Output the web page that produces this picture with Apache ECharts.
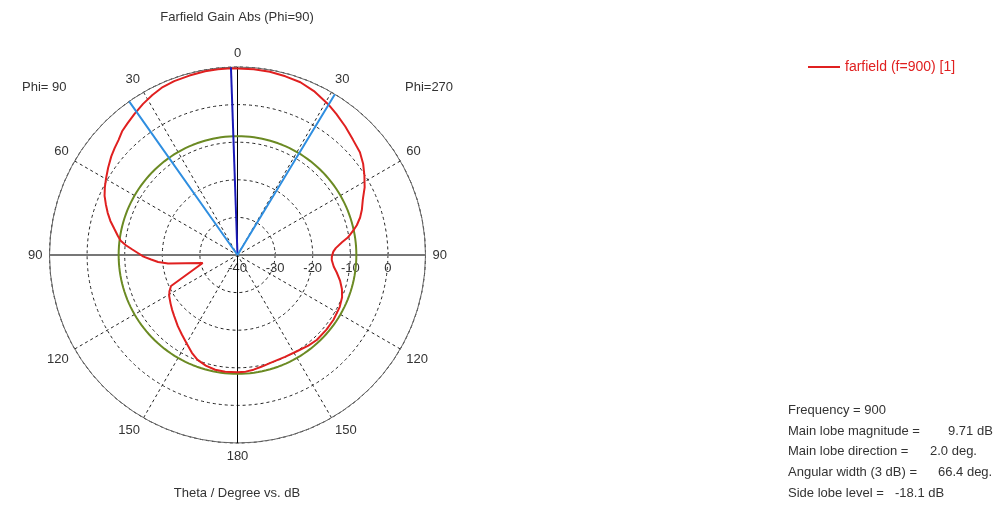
<!DOCTYPE html>
<html>
<head>
<meta charset="utf-8">
<script src="https://cdn.jsdelivr.net/npm/echarts@6/dist/echarts.min.js"></script>
<style>
  html, body { margin: 0; padding: 0; background: #fff; }
  #chart { width: 1000px; height: 509px; }
</style>
</head>
<body>
<div id="chart"></div>
<script>
// theta (deg) and gain (dB), Phi=90 half (left side)
var thetaLeft = [0, 2, 6, 10, 15, 20, 24, 28, 32, 36, 40, 43, 46, 49, 52, 56, 60, 63, 66, 69, 72, 75, 78, 81, 83, 85, 87, 89, 91, 93, 95, 97, 103, 115, 118, 121, 126, 130, 134, 140, 145, 150, 155, 159, 164, 169, 174, 180];
var gainLeft  = [9.6, 9.71, 9.7, 9.6, 9.4, 9.2, 8.9, 8.2, 7.4, 6.5, 5.6, 5.0, 4.0, 3.3, 2.6, 1.5, 0.4, -0.4, -1.3, -2.5, -3.7, -5.0, -6.5, -7.8, -8.7, -10.2, -12.0, -13.6, -15.0, -17.0, -18.8, -21.4, -30.5, -20.5, -19.5, -18.8, -18.0, -17.3, -16.6, -15.3, -14.2, -12.9, -11.3, -10.2, -9.4, -8.9, -8.8, -8.8];
// Phi=270 half (right side)
var thetaRight = [0, 5, 10, 15, 20, 25, 31, 35, 40, 45, 50, 54, 58, 62, 66, 70, 73, 76, 78, 81, 83, 86, 88, 91, 93, 97, 100, 104, 108, 112, 117, 124, 130, 137, 142, 148, 155, 163, 168, 172, 176, 180];
var gainRight  = [9.6, 9.6, 9.5, 9.2, 8.9, 8.1, 6.8, 5.8, 4.6, 3.4, 2.5, 1.3, -0.2, -1.7, -3.5, -4.8, -5.9, -7.3, -8.5, -10.3, -12.0, -13.8, -14.5, -14.9, -14.9, -14.2, -13.2, -11.9, -10.8, -10.0, -9.5, -9.2, -9.1, -9.1, -9.4, -9.9, -10.1, -10.0, -9.6, -9.2, -8.9, -8.8];

var radiusTicks = [-40, -30, -20, -10, 0, 10];
var mainLobeMag = 9.71;
var mainLobeDir = 2.0;     // deg, towards Phi=90
var angularWidth = 66.4;
var sideLobeLevel = -18.1;

// angle axis starts at east and runs clockwise: top = 270
function leftAngle(t) { return 270 - t; }
function rightAngle(t) { return (270 + t) % 360; }

var rMin = radiusTicks[0], rMax = radiusTicks[radiusTicks.length - 1];

var redData = [];
for (var i = thetaLeft.length - 1; i >= 0; i--) redData.push([gainLeft[i], leftAngle(thetaLeft[i])]);
for (var j = 0; j < thetaRight.length; j++) redData.push([gainRight[j], rightAngle(thetaRight[j])]);

var sllCircle = [];
for (var a = 0; a <= 360; a += 2) sllCircle.push([mainLobeMag + sideLobeLevel, a]);

var halfW = angularWidth / 2;
var dirAngle = leftAngle(mainLobeDir);
var wLeft = leftAngle(mainLobeDir + halfW);
var wRight = rightAngle(halfW - mainLobeDir);

var font = '"Liberation Sans", Arial, sans-serif';
function txt(x, y, s, align) {
  return { type: 'text', x: x, y: y, style: { text: s, font: '13px ' + font, fill: '#333', textAlign: align || 'left', textVerticalAlign: 'middle' } };
}

var chart = echarts.init(document.getElementById('chart'));
chart.setOption({
  animation: false,
  polar: { center: [237.5, 255], radius: 188 },
  angleAxis: {
    type: 'value', min: 0, max: 360, interval: 30, startAngle: 0, clockwise: true,
    axisLine: { show: true, lineStyle: { color: '#666', width: 1 } },
    axisTick: { show: false },
    axisLabel: {
      margin: 7, color: '#333', fontSize: 13, fontFamily: font,
      formatter: function (v) {
        if (v === 360) return '';
        if (v > 90 && v < 270) return String(270 - v);
        return String((v + 90) % 360);
      }
    },
    splitLine: { show: true, lineStyle: { color: '#222', type: [3, 3], width: 1 } }
  },
  radiusAxis: {
    type: 'value', min: rMin, max: rMax, interval: 10,
    axisLine: { show: false },
    axisTick: { show: true, length: 3, lineStyle: { color: '#777' } },
    axisLabel: {
      color: '#333', fontSize: 13, fontFamily: font, margin: -20,
      formatter: function (v) { return v === rMax ? '' : String(v); }
    },
    splitLine: { show: true, lineStyle: { color: '#222', type: [3, 3], width: 1 } }
  },
  legend: {
    left: 803, top: 55, icon: 'rect', itemWidth: 32, itemHeight: 2, itemGap: 7,
    data: ['farfield (f=900) [1]'],
    textStyle: { color: '#e02020', fontSize: 14, fontFamily: font }
  },
  graphic: [
    txt(237, 17, 'Farfield Gain Abs (Phi=90)', 'center'),
    txt(22, 87, 'Phi= 90'),
    txt(405, 87, 'Phi=270'),
    txt(237, 493, 'Theta / Degree vs. dB', 'center'),
    txt(788, 410, 'Frequency = 900'),
    txt(788, 431, 'Main lobe magnitude ='),
    txt(948, 431, mainLobeMag.toFixed(2) + ' dB'),
    txt(788, 451, 'Main lobe direction ='),
    txt(930, 451, mainLobeDir.toFixed(1) + ' deg.'),
    txt(788, 472, 'Angular width (3 dB) ='),
    txt(938, 472, angularWidth.toFixed(1) + ' deg.'),
    txt(788, 493, 'Side lobe level ='),
    txt(895, 493, sideLobeLevel.toFixed(1) + ' dB')
  ],
  series: [
    { type: 'line', coordinateSystem: 'polar', symbol: 'none', silent: true,
      data: [[rMax, 180], [rMin, 180], [rMax, 0]], lineStyle: { color: '#777', width: 2 } },
    { type: 'line', coordinateSystem: 'polar', symbol: 'none', silent: true,
      data: [[rMax, 270], [rMin, 270], [rMax, 90]], lineStyle: { color: '#000', width: 1 } },
    { type: 'line', coordinateSystem: 'polar', symbol: 'none', silent: true,
      data: sllCircle, lineStyle: { color: '#6b8a23', width: 2 } },
    { name: 'farfield (f=900) [1]', type: 'line', coordinateSystem: 'polar', symbol: 'none',
      data: redData, lineStyle: { color: '#e02020', width: 2 }, itemStyle: { color: '#e02020' } },
    { type: 'line', coordinateSystem: 'polar', symbol: 'none', silent: true,
      data: [[rMin, dirAngle], [rMax, dirAngle]], lineStyle: { color: '#1a1ab8', width: 2 } },
    { type: 'line', coordinateSystem: 'polar', symbol: 'none', silent: true,
      data: [[rMax, wLeft], [rMin, wLeft], [rMax, wRight]], lineStyle: { color: '#2f8ee0', width: 2 } }
  ]
});
</script>
</body>
</html>
